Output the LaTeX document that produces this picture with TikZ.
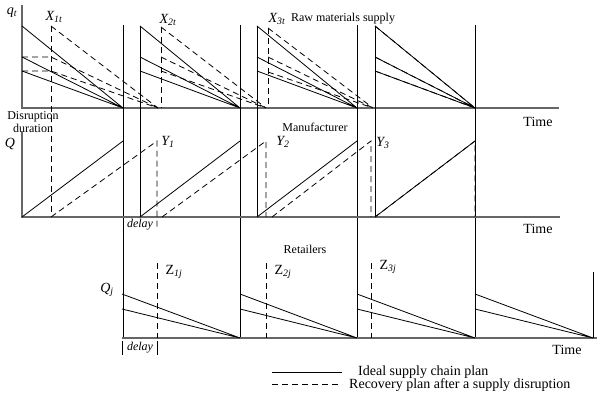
\documentclass[tikz,border=0pt]{standalone}
\usepackage{fontspec}
\setmainfont{Liberation Serif}
\begin{document}
\begin{tikzpicture}[x=1pt,y=-1pt,
  ax/.style={draw=black!60, line width=1.1pt},
  ln/.style={draw=black, line width=0.8pt},
  rc/.style={draw=black, line width=0.8pt, dash pattern=on 6pt off 4pt},
  lab/.style={font=\fontsize{12}{14}\selectfont, inner sep=0pt},
  big/.style={font=\fontsize{14}{16}\selectfont, inner sep=0pt}]
\useasboundingbox (0,0) rectangle (597,398);
% ---------- raw materials panel ----------
\draw[ax] (22,5) -- (22,108) -- (559,108);
\foreach \x in {123,240,357,475} \draw[ln] (\x,25) -- (\x,338);
\foreach \x in {140,257,375} \draw[ln] (\x,26) -- (\x,217);
\foreach \s/\e in {22/123,140/240,257/357,375/475}
  \draw[ln] (\s,26) -- (\e,108) (\s,57) -- (\e,108) (\s,71) -- (\e,108);
% recovery, raw
\draw[rc] (22,57) -- (51,57) -- (158,108);
\draw[rc] (22,71) -- (51,71) -- (158,108);
\draw[rc] (51,26) -- (158,108);
\draw[rc] (51,26) -- (51,217);
\draw[rc] (161,27) -- (161,108);
\draw[rc] (161,27) -- (266,108) (161,57) -- (266,108) (161,71) -- (266,108);
\draw[rc] (268,28) -- (268,108);
\draw[rc] (268,28) -- (373,108) (268,57) -- (373,108) (268,72) -- (373,108);
\draw[rc] (375,26) -- (375,108);
\draw[rc] (375,26) -- (475,108) (375,57) -- (475,108) (375,71) -- (475,108);
% ---------- manufacturer panel ----------
\draw[ax] (22,132) -- (22,217) -- (560,217);
\foreach \s/\e in {22/123,140/240,257/357,375/475}
  \draw[ln] (\s,217) -- (\e,141);
\draw[rc] (51,217) -- (157,141) -- (157,230);
\draw[rc] (162,217) -- (266,141) -- (266,217);
\draw[rc] (272,217) -- (371,141) -- (371,217);
\draw[rc] (375,217) -- (475,141) -- (475,217);
% ---------- retailers panel ----------
\draw[ax] (122,338) -- (597,338);
\foreach \s/\e in {122/240,240/357,357/475,475/593}
  \draw[ln] (\s,294) -- (\e,338) (\s,309) -- (\e,338);
\draw[ln] (593,272) -- (593,338);
\foreach \x in {157,266,371} \draw[rc] (\x,263) -- (\x,338);
\draw[ln] (122,341) -- (122,355) (157,341) -- (157,355);
% ---------- legend ----------
\draw[ln] (272,372) -- (342,372);
\draw[rc] (272,384) -- (342,384);
% ---------- texts ----------
\node[big] (qt) at (12,13) {\itshape q\textsubscript{t}};
\node[big] (x1) at (54,17) {\itshape X\textsubscript{1t}};
\node[big] (x2) at (168,20) {\itshape X\textsubscript{2t}};
\node[big] (x3) at (277,19) {\itshape X\textsubscript{3t}};
\node[lab] (raw) at (343,19) {Raw materials supply};
\node[lab] (dis) at (33,117) {Disruption};
\node[lab] (dur) at (33,128) {duration};
\node[big] (q) at (10,144) {\itshape Q};
\node[big] (y1) at (168,142) {\itshape Y\textsubscript{1}};
\node[big] (y2) at (283,142) {\itshape Y\textsubscript{2}};
\node[big] (y3) at (383,143) {\itshape Y\textsubscript{3}};
\node[lab] (man) at (315,127) {Manufacturer};
\node[lab] (d1) at (140,225) {\itshape delay};
\node[big] (t1) at (538,122) {Time};
\node[big] (t2) at (538,229) {Time};
\node[lab] (ret) at (305,249) {Retailers};
\node[big] (qj) at (107,290) {\itshape Q\textsubscript{j}};
\node[big] (z1) at (174,272) {Z\textsubscript{\itshape 1j}};
\node[big] (z2) at (283,272) {Z\textsubscript{\itshape 2j}};
\node[big] (z3) at (388,267) {Z\textsubscript{\itshape 3j}};
\node[lab] (d2) at (140,348) {\itshape delay};
\node[big] (t3) at (567,350) {Time};
\node[big, anchor=west] (l1) at (358,372) {Ideal supply chain plan};
\node[big, anchor=west] (l2) at (349,385) {Recovery plan after a supply disruption};
\end{tikzpicture}
\end{document}
